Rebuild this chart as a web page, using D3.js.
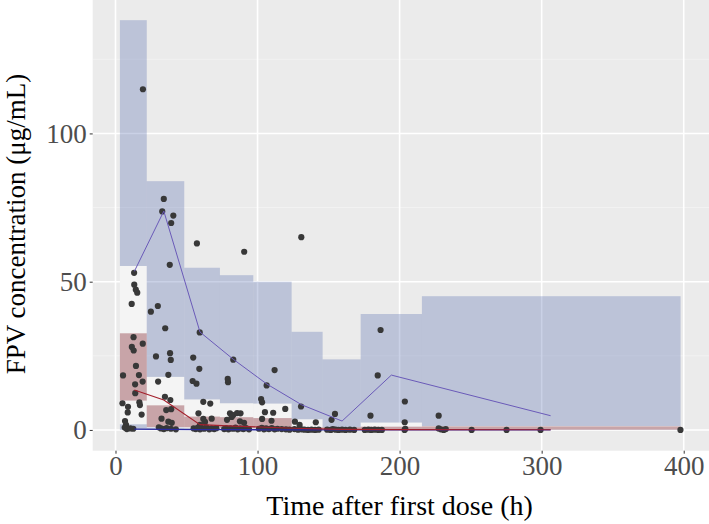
<!DOCTYPE html>
<html><head><meta charset="utf-8">
<script src="https://cdn.jsdelivr.net/npm/d3@7"></script>
<style>html,body{margin:0;padding:0;background:#fff;}svg{display:block;}</style>
</head><body>
<svg id="chart" width="709" height="524"></svg>
<script>
// ---- data ----
const binEdges = [3.1, 22.0, 48.4, 73.5, 97.0, 124.0, 145.8, 172.6, 215.7, 397.8];
const upperLo  = [55.3, 17.9, 10.3, 9.0, 8.9, 3.6, 0.9, 2.5, 1.3];
const upperHi  = [138.2, 83.9, 54.7, 52.2, 50.0, 33.1, 23.8, 39.1, 45.1];
const medLo    = [9.9, 1.0, 0.9, 0.7, 0.6, 0.2, 0.2, 0.2, 0.1];
const medHi    = [32.6, 8.3, 4.5, 4.3, 4.0, 0.9, 0.9, 1.1, 1.2];
const lowLo    = [0, 0, 0, 0, 0, 0, 0, 0, 0];
const lowHi    = [1.9, 0.8, 0.6, 0.5, 0.4, 0.2, 0.2, 0.2, 0.1];

const binMid    = [13.3, 34.0, 59.5, 83.0, 106.5, 131.0, 159.5, 194.2, 306.3];
const obsUpper  = [53.5, 73.8, 33.0, 23.8, 15.5, 8.5, 3.0, 18.5, 4.8];
const obsMedian = [13.5, 10.1, 1.8, 1.3, 0.9, 0.5, 0.2, 0.1, 0.05];
const obsLower  = [0.3, 0.2, 0.1, 0.1, 0.05, 0, 0, 0, 0];

const obsTime = [
 19.3,34.0,32.9,40.7,39.2,130.8,57.3,90.6,38.2,13.1,13.2,14.3,15.3,11.4,29.8,24.9,35.0,59.3,186.6,12.7,
 19.2,11.5,12.8,28.5,38.4,38.9,54.7,82.9,5.3,14.4,16.5,37.2,59.0,112.0,184.6,30.0,19.1,13.8,54.3,57.0,
 79.0,79.2,106.4,13.9,34.8,38.6,16.8,17.2,4.9,8.8,8.6,18.4,61.8,66.7,102.5,103.2,119.5,130.6,203.7,179.5,
 227.5,154.5,203.6,141.0,152.1,126.3,129.6,105.2,111.0,103.2,109.8,88.0,87.6,90.5,80.6,82.9,85.6,81.8,78.5,58.4,
 61.8,63.0,67.7,59.5,35.7,39.2,32.4,37.2,39.6,6.7,7.4,
 6.5,8.0,10.5,12.5,
 30.5,32.0,34.0,36.0,39.0,42.5,
 55.0,56.5,58.0,59.5,61.0,62.5,64.0,66.0,67.5,69.5,71.0,
 76.5,78.0,79.5,81.0,83.0,84.5,86.0,88.0,90.0,92.0,94.0,
 101.0,103.0,104.5,106.0,108.0,110.0,112.0,114.0,117.0,120.0,122.5,
 126.0,128.5,131.0,133.0,135.5,138.0,140.5,143.0,
 149.0,151.5,153.0,155.0,157.0,159.5,162.0,165.0,168.0,
 175.5,178.0,180.0,182.5,185.0,187.5,203.5,204.0,
 227.5,229.0,231.0,232.5,250.7,275.3,299.2,397.7
];
const obsConc = [
 114.9,77.9,73.7,72.3,69.8,65.0,62.9,60.1,55.7,53.0,49.0,47.3,46.3,42.5,41.8,39.9,34.3,32.9,33.7,31.3,
 29.1,28.0,26.8,24.8,25.9,23.6,24.4,23.7,18.4,21.6,18.5,18.6,20.6,20.2,18.4,16.3,16.3,15.4,16.5,15.6,
 17.2,16.1,15.0,12.4,11.2,10.1,9.3,8.4,9.0,7.8,5.9,5.2,9.5,8.9,10.4,9.3,7.1,7.9,9.6,4.8,
 4.8,5.4,2.6,2.6,3.4,2.8,1.7,6.0,5.8,3.7,3.1,5.6,2.9,2.4,5.6,5.0,5.7,4.4,3.4,5.6,
 3.7,2.7,3.8,1.7,6.7,7.0,3.8,2.8,2.4,3.0,1.7,
 0.8,0.3,0.5,0.4,
 0.9,0.5,0.3,0.6,0.4,0.2,
 0.5,0.3,0.8,0.2,0.6,0.4,0.9,0.2,0.5,0.3,0.6,
 0.3,0.6,0.2,0.5,0.4,0.8,0.2,0.5,0.3,0.6,0.2,
 0.4,0.7,0.2,0.5,0.3,0.6,0.2,0.4,0.3,0.2,0.1,
 0.3,0.1,0.2,0.1,0.0,0.1,0.0,0.1,
 0.1,0.0,0.3,0.1,0.0,0.1,0.0,0.1,0.0,
 0.0,0.1,0.0,0.1,0.0,0.0,0.0,0.4,
 0.5,0.2,0.0,0.3,0.0,0.0,0.0,0.0
];

const xTicks = [0, 100, 200, 300, 400];
const yTicks = [0, 50, 100];
const yMinor = [25, 75, 125];
const xTitle = "Time after first dose (h)";
const yTitle = "FPV concentration (\u03bcg/mL)";

// ---- layout ----
const svg = d3.select("#chart");
const panel = {left: 92.7, right: 709, top: 0, bottom: 450.7};
const x = d3.scaleLinear().domain([-16.05, 417.8]).range([panel.left, panel.right]);
const y = d3.scaleLinear().domain([-7.0, 145.0]).range([panel.bottom, panel.top]);

svg.append("rect").attr("x", panel.left).attr("y", panel.top)
  .attr("width", panel.right - panel.left).attr("height", panel.bottom - panel.top)
  .attr("fill", "#EBEBEB");

const grid = svg.append("g");
grid.selectAll(".ymin").data(yMinor).join("line")
  .attr("x1", panel.left).attr("x2", panel.right)
  .attr("y1", d => y(d)).attr("y2", d => y(d))
  .attr("stroke", "#fff").attr("stroke-width", 0.6).attr("stroke-opacity", 0.6);
grid.selectAll(".ymaj").data(yTicks).join("line")
  .attr("x1", panel.left).attr("x2", panel.right)
  .attr("y1", d => y(d)).attr("y2", d => y(d))
  .attr("stroke", "#fff").attr("stroke-width", 1.6);
grid.selectAll(".xmaj").data(xTicks).join("line")
  .attr("y1", panel.top).attr("y2", panel.bottom)
  .attr("x1", d => x(d)).attr("x2", d => x(d))
  .attr("stroke", "#fff").attr("stroke-width", 1.6);

const bins = d3.range(binEdges.length - 1).map(i => ({
  x0: binEdges[i], x1: binEdges[i + 1],
  uLo: upperLo[i], uHi: upperHi[i], mLo: medLo[i], mHi: medHi[i], lLo: lowLo[i], lHi: lowHi[i]
}));

const g = svg.append("g");
g.selectAll(".band").data(bins).join("rect")
  .attr("x", d => x(d.x0)).attr("width", d => x(d.x1) - x(d.x0))
  .attr("y", d => y(d.uLo)).attr("height", d => y(d.lHi) - y(d.uLo))
  .attr("fill", "#F4F4F4");
g.selectAll(".upper").data(bins).join("rect")
  .attr("x", d => x(d.x0)).attr("width", d => x(d.x1) - x(d.x0))
  .attr("y", d => y(d.uHi)).attr("height", d => y(d.uLo) - y(d.uHi))
  .attr("fill", "rgb(78,102,172)").attr("fill-opacity", 0.3);
g.selectAll(".lower").data(bins).join("rect")
  .attr("x", d => x(d.x0)).attr("width", d => x(d.x1) - x(d.x0))
  .attr("y", d => y(d.lHi)).attr("height", d => y(d.lLo) - y(d.lHi))
  .attr("fill", "rgb(78,102,172)").attr("fill-opacity", 0.3);
g.selectAll(".median").data(bins).join("rect")
  .attr("x", d => x(d.x0)).attr("width", d => x(d.x1) - x(d.x0))
  .attr("y", d => y(d.mHi)).attr("height", d => y(d.mLo) - y(d.mHi))
  .attr("fill", "rgb(134,46,54)").attr("fill-opacity", 0.4);

const pts = obsTime.map((t, i) => ({t, c: obsConc[i]}));
svg.append("g").selectAll("circle").data(pts).join("circle")
  .attr("cx", d => x(d.t)).attr("cy", d => y(d.c)).attr("r", 3.1)
  .attr("fill", "#383838");

const line = d3.line().x(d => x(d[0])).y(d => y(d[1]));
svg.append("path").datum(binMid.map((t, i) => [t, obsLower[i]]))
  .attr("d", line).attr("fill", "none").attr("stroke", "#2a2aa0").attr("stroke-width", 1.3);
svg.append("path").datum(binMid.map((t, i) => [t, obsMedian[i]]))
  .attr("d", line).attr("fill", "none").attr("stroke", "#a3202c").attr("stroke-width", 1.1);
svg.append("path").datum(binMid.map((t, i) => [t, obsUpper[i]]))
  .attr("d", line).attr("fill", "none").attr("stroke", "#6a5ab8").attr("stroke-width", 1.0);

const font = "'Liberation Serif', 'Times New Roman', serif";
const xAxis = svg.append("g").attr("transform", `translate(0,${panel.bottom})`)
  .call(d3.axisBottom(x).tickValues(xTicks).tickSize(3).tickPadding(2));
xAxis.select(".domain").remove();
xAxis.selectAll(".tick line").attr("stroke", "#333");
xAxis.selectAll("text").attr("font-family", font).attr("font-size", 27).attr("fill", "#4D4D4D");

const yAxis = svg.append("g").attr("transform", `translate(${panel.left},0)`)
  .call(d3.axisLeft(y).tickValues(yTicks).tickSize(3).tickPadding(3));
yAxis.select(".domain").remove();
yAxis.selectAll(".tick line").attr("stroke", "#333");
yAxis.selectAll("text").attr("font-family", font).attr("font-size", 27).attr("fill", "#4D4D4D");

svg.append("text").attr("x", (x(0) + x(400)) / 2).attr("y", 515)
  .attr("text-anchor", "middle").attr("font-family", font).attr("font-size", 28)
  .attr("fill", "#000").text(xTitle);
svg.append("text").attr("transform", `translate(25,${224}) rotate(-90)`)
  .attr("text-anchor", "middle").attr("font-family", font).attr("font-size", 27)
  .attr("fill", "#000").text(yTitle);
</script>
</body></html>
